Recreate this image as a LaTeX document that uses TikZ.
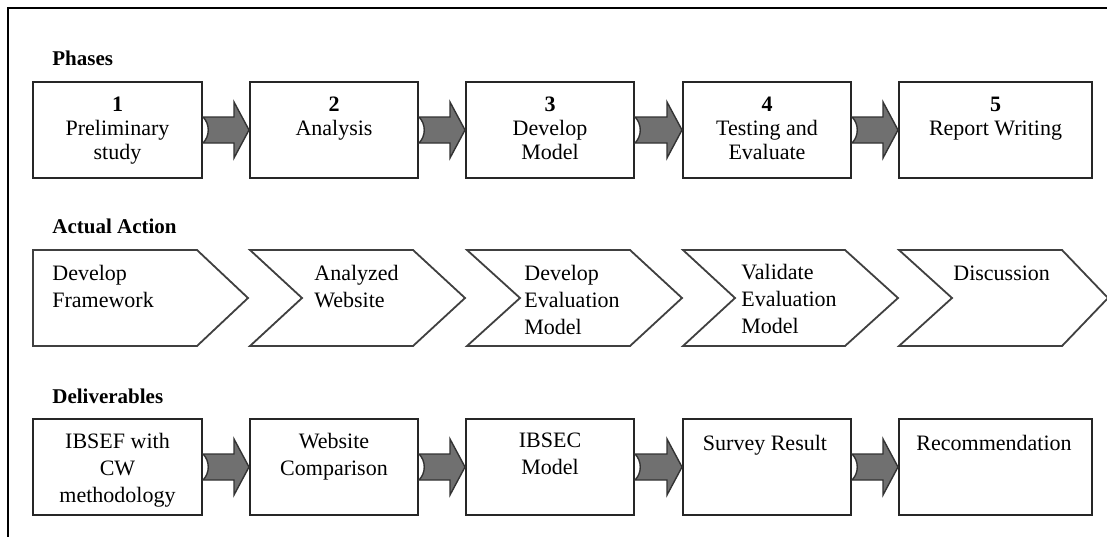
\documentclass[tikz,border=0pt]{standalone}
\usepackage{fontspec}
\setmainfont{Liberation Serif}
\usetikzlibrary{calc}
\tikzset{
  box/.style={draw=black!85, line width=1pt, fill=white, inner sep=0pt},
  chev/.style={draw=black!75, line width=0.9pt, line join=miter},
  frame/.style={draw=black, line width=1.1pt},
  head/.style={font=\fontsize{10.5}{12}\selectfont\bfseries, inner sep=0pt, anchor=base west},
  ptext/.style={font=\fontsize{11}{12}\selectfont, align=center, inner sep=0pt, anchor=north},
  dtext/.style={font=\fontsize{11}{13.5}\selectfont, align=center, inner sep=0pt, anchor=north},
  ctext/.style={font=\fontsize{11}{13.5}\selectfont, align=left, inner sep=0pt, anchor=north west},
  barrow/.style={fill=black!56, draw=black!80, line width=0.7pt, line join=miter}
}
\newcommand{\blockarrow}[2]{%
  \draw[barrow] ($(#1.east)+(0,-13)$) -- ($(#2.west)+(-15,-13)$) -- ($(#2.west)+(-15,-28)$)
    -- (#2.west) -- ($(#2.west)+(-15,28)$) -- ($(#2.west)+(-15,13)$) -- ($(#1.east)+(0,13)$)
    .. controls ($(#1.east)+(7,6)$) and ($(#1.east)+(7,-6)$) .. cycle;}
\begin{document}
\begin{tikzpicture}[x=0.5pt, y=-0.5pt]
\useasboundingbox (0,0) rectangle (1107,536);
\fill[white] (0,0) rectangle (1107,536);
\draw[frame] (8,540) -- (8,8) -- (1110,8);

% headings
\node[head] (hph) at (52,65) {Phases};
\node[head] (hac) at (52,233) {Actual Action};
\node[head] (hde) at (52,403) {Deliverables};

% phase boxes
\node[box, minimum width=84.5pt, minimum height=48pt] (p1) at (117.5,130) {};
\node[box, minimum width=84pt, minimum height=48pt] (p2) at (334,130) {};
\node[box, minimum width=84pt, minimum height=48pt] (p3) at (550,130) {};
\node[box, minimum width=84pt, minimum height=48pt] (p4) at (767,130) {};
\node[box, minimum width=96.5pt, minimum height=48pt] (p5) at (995.5,130) {};

\node[ptext] (p1t) at (117.5,97) {\textbf{1}\\Preliminary\\study};
\node[ptext] (p2t) at (334,97) {\textbf{2}\\Analysis};
\node[ptext] (p3t) at (550,97) {\textbf{3}\\Develop\\Model};
\node[ptext] (p4t) at (767,97) {\textbf{4}\\Testing and\\Evaluate};
\node[ptext] (p5t) at (995.5,97) {\textbf{5}\\Report Writing};

\blockarrow{p1}{p2}
\blockarrow{p2}{p3}
\blockarrow{p3}{p4}
\blockarrow{p4}{p5}

% chevrons
\draw[chev, fill=white] (33,250) -- (197,250) -- (248,298) -- (197,346) -- (33,346) -- cycle;
\draw[chev, fill=white] (250,250) -- (413,250) -- (465,298) -- (413,346) -- (250,346) -- (302,298) -- cycle;
\draw[chev, fill=white] (467,250) -- (630,250) -- (682,298) -- (630,346) -- (467,346) -- (520,298) -- cycle;
\draw[chev, fill=white] (683,250) -- (845,250) -- (898,298) -- (845,346) -- (683,346) -- (735,298) -- cycle;
\draw[chev, fill=white] (899,250) -- (1062,250) -- (1108,298) -- (1062,346) -- (899,346) -- (952,298) -- cycle;

\node[ctext] (a1t) at (52,265) {Develop\\Framework};
\node[ctext] (a2t) at (314,265) {Analyzed\\Website};
\node[ctext] (a3t) at (524,265) {Develop\\Evaluation\\Model};
\node[ctext] (a4t) at (741,264) {Validate\\Evaluation\\Model};
\node[ctext] (a5t) at (953,266) {Discussion};

% deliverable boxes
\node[box, minimum width=84.5pt, minimum height=48pt] (d1) at (117.5,467) {};
\node[box, minimum width=84pt, minimum height=48pt] (d2) at (334,467) {};
\node[box, minimum width=84pt, minimum height=48pt] (d3) at (550,467) {};
\node[box, minimum width=84pt, minimum height=48pt] (d4) at (767,467) {};
\node[box, minimum width=96.5pt, minimum height=48pt] (d5) at (995.5,467) {};

\node[dtext] (d1t) at (117.5,433) {IBSEF with\\CW\\methodology};
\node[dtext] (d2t) at (334,433) {Website\\Comparison};
\node[dtext] (d3t) at (550,433) {IBSEC\\Model};
\node[dtext] (d4t) at (765,435) {Survey Result};
\node[dtext] (d5t) at (994,435) {Recommendation};

\blockarrow{d1}{d2}
\blockarrow{d2}{d3}
\blockarrow{d3}{d4}
\blockarrow{d4}{d5}
\end{tikzpicture}
\end{document}
